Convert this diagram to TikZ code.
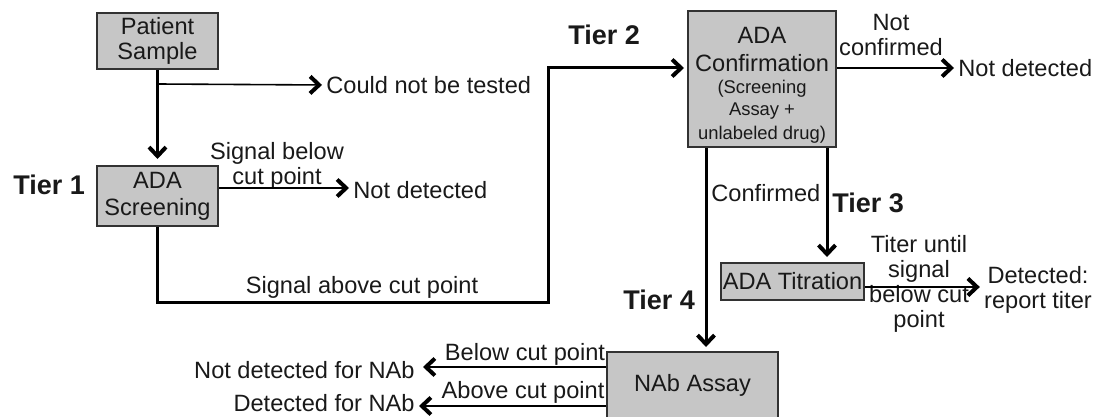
\documentclass[tikz,border=0pt]{standalone}
\usepackage{fontspec}
\setmainfont{Liberation Sans}
\usetikzlibrary{arrows.meta}
\definecolor{boxfill}{RGB}{198,198,198}
\definecolor{boxline}{RGB}{50,50,50}
\definecolor{txt}{RGB}{25,25,25}
\tikzset{
  >={Straight Barb[length=4.5pt,width=8.5pt,line width=2pt]},
  gbox/.style={draw=boxline,line width=1pt,fill=boxfill,align=center,inner sep=0pt,
     font=\fontsize{11.8}{12.5}\selectfont,text=txt},
  lbl/.style={align=center,inner sep=0pt,font=\fontsize{11.8}{12.5}\selectfont,text=txt},
  tier/.style={inner sep=0pt,font=\bfseries\fontsize{13.5}{13.5}\selectfont,text=txt},
  heavy/.style={line width=1.5pt,->},
  light/.style={line width=0.8pt,->},
}
\begin{document}
\begin{tikzpicture}[x=0.5pt,y=-0.5pt]
\useasboundingbox (0,0) rectangle (1096,417);
% boxes
\node[gbox,minimum width=60.5pt,minimum height=28pt] (ps) at (157.5,41) {Patient\\Sample};
\node[gbox,minimum width=60.5pt,minimum height=30pt] (scr) at (157.5,196) {ADA\\[1pt]Screening};
\node[gbox,minimum width=74pt,minimum height=68pt] (conf) at (762,79) {};
\node[lbl,font=\fontsize{11.8}{14}\selectfont] (conft) at (762,85) {ADA\\[0pt]Confirmation\\[-3pt]{\fontsize{9.2}{10.5}\selectfont (Screening}\\[-3.2pt]{\fontsize{9.2}{10.5}\selectfont Assay +}\\[-2pt]{\fontsize{9.2}{10.5}\selectfont unlabeled drug)}};
\node[gbox,minimum width=71.5pt,minimum height=18.5pt] (tit) at (792.5,281.5) {ADA Titration};
\node[gbox,minimum width=85.5pt,minimum height=33pt] (nab) at (692.5,385) {NAb Assay};
% tier labels
\node[tier,anchor=west] (t1) at (13,185) {Tier 1};
\node[tier,anchor=west] (t2) at (568,35) {Tier 2};
\node[tier,anchor=west] (t3) at (832,203) {Tier 3};
\node[tier,anchor=west] (t4) at (623,300) {Tier 4};
% outcome texts
\node[lbl,anchor=west] (cnt) at (326,85) {Could not be tested};
\node[lbl,anchor=west] (nd1) at (353,190) {Not detected};
\node[lbl,anchor=west] (nd2) at (958,68) {Not detected};
\node[lbl] (det) at (1038,290) {Detected:\\report titer};
\node[lbl,anchor=east] (ndn) at (415,370) {Not detected for NAb};
\node[lbl,anchor=east] (dn) at (415,403) {Detected for NAb};
% edge labels
\node[lbl] (sb) at (277,166) {Signal below\\cut point};
\node[lbl] (sa) at (362,287) {Signal above cut point};
\node[lbl] (nc) at (891,35) {Not\\confirmed};
\node[lbl,anchor=west] (cf) at (711,193) {Confirmed};
\node[lbl] (tu) at (919,284) {Titer until\\signal\\below cut\\point};
\node[lbl] (bc) at (525,354) {Below cut point};
\node[lbl] (ac) at (523,392) {Above cut point};
% helper coordinates
\coordinate (br) at (158,84);
\coordinate (k1) at (548,302);
\coordinate (c2in) at (684,68);
\coordinate (cl) at (706,0);
\coordinate (cr) at (827,0);
\coordinate (sy) at (0,188);
\coordinate (ty) at (0,287);
\coordinate (ny1) at (0,367);
\coordinate (ny2) at (0,406);
% connectors
\draw[heavy,shorten >=3pt] (ps.south) -- (scr.north);
\draw[light,shorten >=2pt] (br) -- (cnt.west);
\draw[light,shorten >=2pt] (scr.east |- sy) -- (nd1.west |- sy);
\draw[heavy] (scr.south) |- (k1) |- (c2in);
\draw[light,shorten >=2pt] (conf.east |- c2in) -- (nd2.west);
\draw[heavy,shorten >=2pt] (conf.south -| cl) -- (nab.north -| cl);
\draw[heavy,shorten >=2.5pt] (conf.south -| cr) -- (tit.north -| cr);
\draw[light,shorten >=2pt] (tit.east |- ty) -- (det.west |- ty);
\draw[light,shorten >=4pt] (nab.west |- ny1) -- (ndn.east |- ny1);
\draw[light,shorten >=2pt] (nab.west |- ny2) -- (dn.east |- ny2);
\end{tikzpicture}
\end{document}
